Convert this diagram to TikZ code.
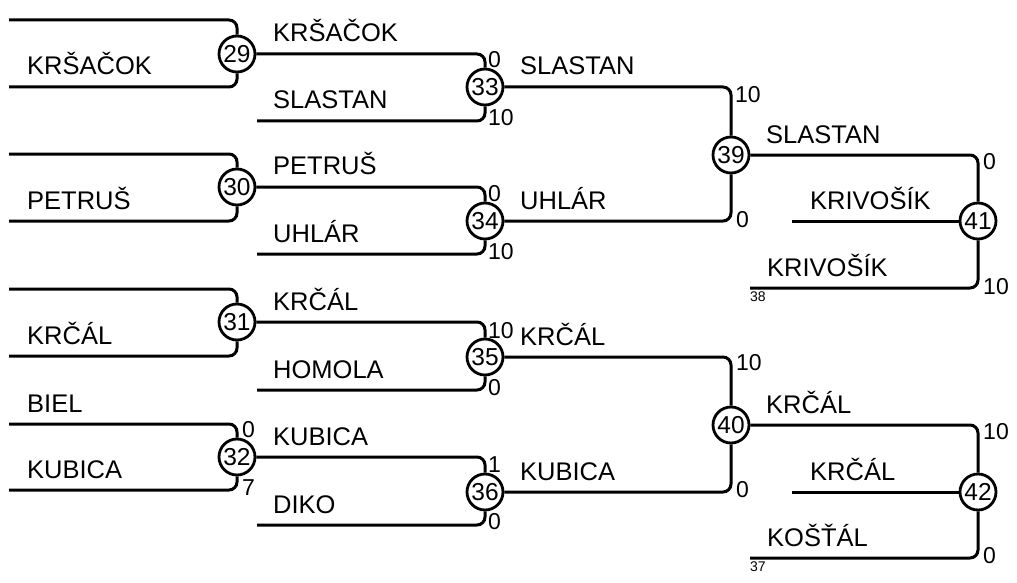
\documentclass[tikz,border=0pt]{standalone}
\usepackage{fontspec}
\setmainfont{Liberation Sans}
\begin{document}
\begin{tikzpicture}[x=1pt,y=-1pt,
  match/.style={circle,draw,line width=2.8pt,minimum size=36pt,inner sep=0pt,fill=white,font=\fontsize{24.5}{24.5}\selectfont},
  conn/.style={line width=3pt,rounded corners=8pt},
  plname/.style={anchor=base west,inner sep=0pt,font=\fontsize{25.5}{25.5}\selectfont},
  score/.style={anchor=west,inner sep=0pt,font=\fontsize{23}{23}\selectfont},
  seed/.style={anchor=north west,inner sep=0pt,font=\fontsize{14}{14}\selectfont}]
\useasboundingbox (0,0) rectangle (1017,583);

% match circles
\node[match] (m29) at (237,54) {29};
\node[match] (m30) at (237,187) {30};
\node[match] (m31) at (237,322) {31};
\node[match] (m32) at (237,457) {32};
\node[match] (m33) at (485,87) {33};
\node[match] (m34) at (485,221) {34};
\node[match] (m35) at (485,357) {35};
\node[match] (m36) at (485,492) {36};
\node[match] (m39) at (731,155) {39};
\node[match] (m40) at (731,425) {40};
\node[match] (m41) at (978,221) {41};
\node[match] (m42) at (978,492) {42};

% free ends
\coordinate (a1) at (9,20);   \coordinate (a2) at (9,87);
\coordinate (a3) at (9,154);  \coordinate (a4) at (9,221);
\coordinate (a5) at (9,289);  \coordinate (a6) at (9,356);
\coordinate (a7) at (9,424);  \coordinate (a8) at (9,490);
\coordinate (b1) at (257,121); \coordinate (b2) at (257,254);
\coordinate (b3) at (257,390); \coordinate (b4) at (257,525);
\coordinate (c41m) at (792,221); \coordinate (c41b) at (750,288);
\coordinate (c42m) at (792,492); \coordinate (c42b) at (750,558);

% connectors
\draw[conn] (a1) -| (m29); \draw[conn] (a2) -| (m29);
\draw[conn] (a3) -| (m30); \draw[conn] (a4) -| (m30);
\draw[conn] (a5) -| (m31); \draw[conn] (a6) -| (m31);
\draw[conn] (a7) -| (m32); \draw[conn] (a8) -| (m32);
\draw[conn] (m29) -| (m33); \draw[conn] (b1) -| (m33);
\draw[conn] (m30) -| (m34); \draw[conn] (b2) -| (m34);
\draw[conn] (m31) -| (m35); \draw[conn] (b3) -| (m35);
\draw[conn] (m32) -| (m36); \draw[conn] (b4) -| (m36);
\draw[conn] (m33) -| (m39); \draw[conn] (m34) -| (m39);
\draw[conn] (m35) -| (m40); \draw[conn] (m36) -| (m40);
\draw[conn] (m39) -| (m41); \draw[conn] (c41m) -- (m41); \draw[conn] (c41b) -| (m41);
\draw[conn] (m40) -| (m42); \draw[conn] (c42m) -- (m42); \draw[conn] (c42b) -| (m42);

% names
\node[plname] (n1) at (27,75) {KRŠAČOK};
\node[plname] (n2) at (27,209) {PETRUŠ};
\node[plname] (n3) at (27,344) {KRČÁL};
\node[plname] (n4) at (27,412) {BIEL};
\node[plname] (n5) at (27,478) {KUBICA};
\node[plname] (n6) at (273,42) {KRŠAČOK};
\node[plname] (n7) at (273,109) {SLASTAN};
\node[plname] (n8) at (273,175) {PETRUŠ};
\node[plname] (n9) at (273,242) {UHLÁR};
\node[plname] (n10) at (273,310) {KRČÁL};
\node[plname] (n11) at (273,378) {HOMOLA};
\node[plname] (n12) at (273,445) {KUBICA};
\node[plname] (n13) at (273,513) {DIKO};
\node[plname] (n14) at (520,75) {SLASTAN};
\node[plname] (n15) at (520,209) {UHLÁR};
\node[plname] (n16) at (520,345) {KRČÁL};
\node[plname] (n17) at (520,480) {KUBICA};
\node[plname] (n18) at (766,143) {SLASTAN};
\node[plname] (n19) at (810,209) {KRIVOŠÍK};
\node[plname] (n20) at (767,276) {KRIVOŠÍK};
\node[plname] (n21) at (766,413) {KRČÁL};
\node[plname] (n22) at (810,480) {KRČÁL};
\node[plname] (n23) at (767,546) {KOŠŤÁL};

% scores
\node[score] (s1) at (242,430) {0};
\node[score] (s2) at (242,488) {7};
\node[score] (s3) at (488,60) {0};
\node[score] (s4) at (488,118) {10};
\node[score] (s5) at (488,194) {0};
\node[score] (s6) at (488,252) {10};
\node[score] (s7) at (488,331) {10};
\node[score] (s8) at (488,388) {0};
\node[score] (s9) at (488,465) {1};
\node[score] (s10) at (488,522) {0};
\node[score] (s11) at (735,95) {10};
\node[score] (s12) at (736,220) {0};
\node[score] (s13) at (736,363) {10};
\node[score] (s14) at (736,490) {0};
\node[score] (s15) at (983,162) {0};
\node[score] (s16) at (983,287) {10};
\node[score] (s17) at (983,432) {10};
\node[score] (s18) at (983,556) {0};

% seeds
\node[seed] (t38) at (750,292) {38};
\node[seed] (t37) at (750,562) {37};
\end{tikzpicture}
\end{document}
